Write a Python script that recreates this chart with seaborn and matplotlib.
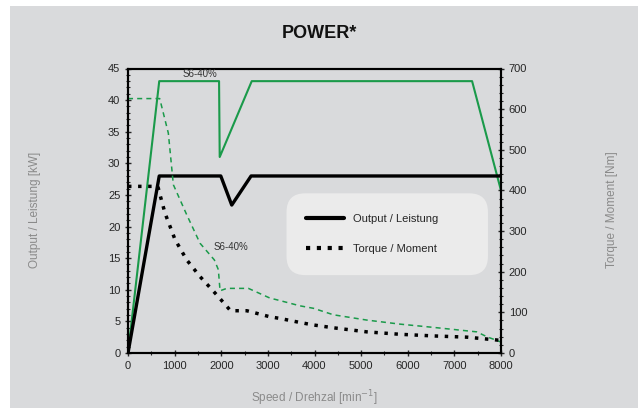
import numpy as np
import pandas as pd
import matplotlib
matplotlib.use("Agg")
import matplotlib.pyplot as plt
import seaborn as sns
from matplotlib.patches import Rectangle, FancyBboxPatch
from matplotlib.lines import Line2D
from matplotlib.ticker import MultipleLocator

# Output / Leistung [kW], S6-40% (green) and S1 (black)
speed_s6_out = [0, 670, 1953, 1967, 2654, 7380, 8000]
power_s6 = [0, 43, 43, 31, 43, 43, 25.7]
speed_s1_out = [0, 670, 1990, 2225, 2640, 8000]
power_s1 = [0, 28, 28, 23.4, 28, 28]

# Torque / Moment [Nm]
speed_s6_trq = [0, 680, 865, 973, 1260, 1545, 1852, 1938, 1974, 2117, 2582,
                3047, 3190, 3691, 3977, 4406, 5122, 5837, 6552, 7482, 7697, 8000]
torque_s6 = [626, 626, 541, 414, 340, 270, 229, 205, 153, 159, 159,
             135, 131, 116, 110, 94, 81, 71, 63, 52, 40, 27]
speed_s1_trq = [0, 640, 687, 794, 1009, 1260, 1545, 1903, 2200, 2547,
                3047, 3262, 3691, 3977, 4406, 5122, 5837, 6552, 7268, 8000]
torque_s1 = [410, 410, 389, 344, 279, 229, 188, 143, 104, 104,
             89, 85, 75, 69, 62, 52, 46, 42, 39, 31]

GREEN = "#1a9a4a"
GREY_TEXT = "#8a8a8a"
sns.set_style("ticks")
plt.rcParams["font.family"] = ["Liberation Sans", "DejaVu Sans"]
NARROW = ["Liberation Sans Narrow", "Liberation Sans", "DejaVu Sans"]

fig = plt.figure(figsize=(6.38, 4.08), dpi=100)
fig.patch.set_facecolor("white")
fig.patches.append(Rectangle((10 / 638, 0), 1, 1 - 6 / 408, transform=fig.transFigure,
                             facecolor="#d9dadc", edgecolor="none", zorder=-10))

ax = fig.add_axes([128 / 638, 1 - 353 / 408, 373 / 638, 284.5 / 408])
ax2 = ax.twinx()
ax.set_zorder(ax2.get_zorder() + 1)
ax.patch.set_visible(False)
ax2.patch.set_facecolor("white")

# Power curves
sns.lineplot(x=speed_s6_out, y=power_s6, ax=ax, color=GREEN, linewidth=1.5, sort=False)
sns.lineplot(x=speed_s1_out, y=power_s1, ax=ax, color="black", linewidth=2.4, sort=False)

# Torque curves
sns.lineplot(x=speed_s6_trq, y=torque_s6, ax=ax, color=GREEN, linewidth=1.1, sort=False,
             linestyle=(0, (3.3, 2.7)), transform=ax2.transData)
sns.lineplot(x=speed_s1_trq, y=torque_s1, ax=ax, color="black", linewidth=2.5, sort=False,
             linestyle=(0, (1, 1.9)), transform=ax2.transData)

ax.set_xlim(0, 8000)
ax.set_ylim(0, 45)
ax2.set_ylim(0, 700)
ax.xaxis.set_major_locator(MultipleLocator(1000))
ax.xaxis.set_minor_locator(MultipleLocator(500))
ax.yaxis.set_major_locator(MultipleLocator(5))
ax.yaxis.set_minor_locator(MultipleLocator(1))
ax2.yaxis.set_major_locator(MultipleLocator(100))
ax2.yaxis.set_minor_locator(MultipleLocator(20))

for a in (ax, ax2):
    a.tick_params(which="major", direction="inout", length=5, width=1, labelsize=8, pad=3)
    a.tick_params(which="minor", direction="inout", length=3, width=0.8)
    for sp in a.spines.values():
        sp.set_visible(True)
        sp.set_linewidth(1.5)
        sp.set_color("black")

ax.set_xlabel("Speed / Drehzal [min$^{-1}$]", family=NARROW, fontsize=8.5,
              color=GREY_TEXT, labelpad=13)
fig.text(35 / 638, 1 - 210 / 408, "Output / Leistung [kW]", rotation=90, ha="center",
         va="center", family=NARROW, fontsize=8.5, color=GREY_TEXT)
fig.text(612 / 638, 1 - 210 / 408, "Torque / Moment [Nm]", rotation=90, ha="center",
         va="center", family=NARROW, fontsize=8.5, color=GREY_TEXT)
fig.text(0.5, 1 - 34 / 408, "POWER*", ha="center", va="center", family=NARROW,
         fontsize=13, fontweight="bold", color="#111111")

ax.text(1545, 44.1, "S6-40%", fontsize=7, ha="center", va="center", color="#333333")
ax.text(2200, 16.7, "S6-40%", fontsize=7, ha="center", va="center", color="#333333")

# Legend box
ax.add_patch(FancyBboxPatch((0.445, 0.30), 0.50, 0.235, transform=ax.transAxes,
                            boxstyle="round,pad=0.02,rounding_size=0.05",
                            facecolor="#ebebeb", edgecolor="none", zorder=3,
                            mutation_aspect=373 / 284))
handles = [Line2D([], [], color="black", linewidth=3),
           Line2D([], [], color="black", linewidth=3, linestyle=(0, (1, 1.6)))]
leg = ax.legend(handles, ["Output / Leistung", "Torque / Moment"], loc="center left",
                bbox_to_anchor=(0.461, 0.419), frameon=False, borderpad=0,
                handlelength=3.5, handletextpad=0.8, labelspacing=1.8,
                prop={"family": NARROW, "size": 8})
leg.set_zorder(4)

fig.savefig("out.png", dpi=100, facecolor=fig.get_facecolor())
